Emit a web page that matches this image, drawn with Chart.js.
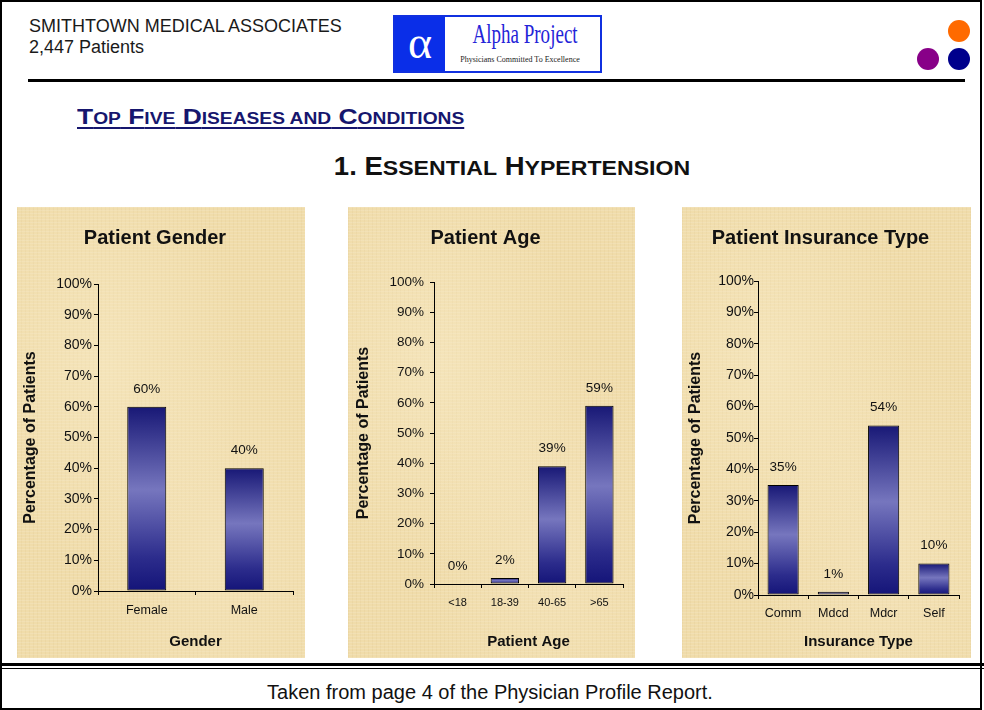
<!DOCTYPE html>
<html>
<head>
<meta charset="utf-8">
<script src="https://cdn.jsdelivr.net/npm/chart.js@4.4.1/dist/chart.umd.min.js"></script>
<style>
  html, body { margin: 0; padding: 0; background: #fff; }
  body { width: 984px; height: 710px; position: relative; overflow: hidden; font-family: Arial, "Liberation Sans", sans-serif; }
  .abs { position: absolute; }
  .frame { left: 0; top: 0; width: 978px; height: 706px; border: 2px solid #000; }
  .hdr { left: 29px; font-size: 18px; line-height: 18px; color: #1a1a1a; white-space: nowrap; }
  .sep { left: 28px; top: 79px; width: 937px; height: 3px; background: #000; }
  .dot { width: 22px; height: 22px; border-radius: 50%; }
  .logo { left: 393px; top: 15px; width: 205px; height: 54px; border: 2px solid #1030e0; background: #fff; }
  .logo .alpha { position: absolute; left: 0; top: 0; width: 50px; height: 54px; background: #0a2ee8; color: #fff;
    font-family: "Liberation Serif", "DejaVu Serif", serif; font-size: 46px; line-height: 52px; text-align: center; }
  .logo .name { position: absolute; left: 55px; top: 2px; width: 140px; text-align: center; color: #2424d8;
    font-family: "Liberation Serif", serif; font-size: 28px; line-height: 30px; transform: scaleX(0.68); white-space: nowrap; }
  .logo .sub { position: absolute; left: 50px; top: 38px; width: 150px; text-align: center; color: #222;
    font-family: "Liberation Serif", serif; font-size: 8px; line-height: 10px; white-space: nowrap; }
  .sec { left: 77px; top: 106px; color: #16166e; font-weight: bold; font-size: 22px; line-height: 22px; white-space: nowrap;
    text-decoration: underline; text-decoration-thickness: 2px; text-underline-offset: 3px; transform: scaleX(1.2); transform-origin: 0 0; }
  .sec .s { font-size: 16px; }
  .ttl { left: 312px; width: 400px; top: 154px; text-align: center; color: #111; font-weight: bold; font-size: 25px; line-height: 25px;
    white-space: nowrap; transform: scaleX(1.1); }
  .ttl .s { font-size: 21px; }
  .panel { top: 207px; height: 451px;
    background-color: #f0dcaa;
    background-image:
      radial-gradient(ellipse at 30% 35%, rgba(250,238,205,0.45), rgba(250,238,205,0) 50%),
      radial-gradient(ellipse at 70% 75%, rgba(248,234,200,0.40), rgba(248,234,200,0) 45%),
      repeating-linear-gradient(0deg, rgba(255,255,255,0.12) 0 1px, rgba(0,0,0,0) 1px 3px),
      repeating-linear-gradient(90deg, rgba(170,130,60,0.06) 0 1px, rgba(0,0,0,0) 1px 4px);
  }
  .panel canvas { position: absolute; left: 0; top: 0; }
  .dbl1 { left: 0; top: 663px; width: 984px; height: 3px; background: #000; }
  .dbl2 { left: 0; top: 668px; width: 984px; height: 1px; background: #000; }
  .foot { left: 0; width: 980px; top: 682px; text-align: center; font-size: 20px; line-height: 20px; color: #111; }
</style>
</head>
<body>
<div class="abs frame"></div>
<div class="abs hdr" style="top:17px">SMITHTOWN MEDICAL ASSOCIATES</div>
<div class="abs hdr" style="top:38px">2,447 Patients</div>
<div class="abs logo">
  <div class="alpha">&alpha;</div>
  <div class="name">Alpha Project</div>
  <div class="sub">Physicians Committed To Excellence</div>
</div>
<div class="abs dot" style="left:948px; top:20px; background:#ff6a00"></div>
<div class="abs dot" style="left:917px; top:48px; background:#880088"></div>
<div class="abs dot" style="left:948px; top:48px; background:#00008c"></div>
<div class="abs sep"></div>

<div class="abs sec">T<span class="s">OP</span> F<span class="s">IVE</span> D<span class="s">ISEASES AND</span> C<span class="s">ONDITIONS</span></div>
<div class="abs ttl">1. E<span class="s">SSENTIAL</span> H<span class="s">YPERTENSION</span></div>

<div class="abs panel" style="left:17px; width:288px"><canvas id="c1" width="288" height="451"></canvas></div>
<div class="abs panel" style="left:348px; width:287px"><canvas id="c2" width="287" height="451"></canvas></div>
<div class="abs panel" style="left:682px; width:289px"><canvas id="c3" width="289" height="451"></canvas></div>

<div class="abs dbl1"></div>
<div class="abs dbl2"></div>
<div class="abs foot">Taken from page 4 of the Physician Profile Report.</div>

<script>
// datos
const percentTicks = [0, 10, 20, 30, 40, 50, 60, 70, 80, 90, 100];

const genderLabels = ["Female", "Male"];
const genderValues = [60, 40];

const ageLabels = ["<18", "18-39", "40-65", ">65"];
const ageValues = [0, 2, 39, 59];

const insuranceLabels = ["Comm", "Mdcd", "Mdcr", "Self"];
const insuranceValues = [35, 1, 54, 10];

const fuente = "Arial, 'Liberation Sans', sans-serif";

// degradado de cada barra: oscuro arriba y abajo, claro al medio
function barGradient(c) {
  if (c.type !== "data") return "#2a2a8a";
  const y = c.chart.scales.y;
  const top = y.getPixelForValue(c.raw);
  const base = y.getPixelForValue(0);
  if (!isFinite(top) || !isFinite(base) || base - top < 1) return "#1c1c7c";
  const g = c.chart.ctx.createLinearGradient(0, top, 0, base);
  g.addColorStop(0, "#181876");
  g.addColorStop(0.45, "#7676be");
  g.addColorStop(0.82, "#2c2c8c");
  g.addColorStop(1, "#141478");
  return g;
}

// etiqueta de porcentaje encima de cada barra
const valueLabels = {
  id: "valueLabels",
  afterDatasetsDraw(chart) {
    const ctx = chart.ctx;
    const meta = chart.getDatasetMeta(0);
    ctx.save();
    ctx.font = "13.5px " + fuente;
    ctx.fillStyle = "#111";
    ctx.textAlign = "center";
    ctx.textBaseline = "middle";
    meta.data.forEach((bar, i) => {
      const v = chart.data.datasets[0].data[i];
      ctx.fillText(v + "%", bar.x, bar.y - 18);
    });
    ctx.restore();
  }
};

function crearGrafico(id, titulo, labels, values, xTitulo, lay) {
  const ctx = document.getElementById(id).getContext("2d");
  return new Chart(ctx, {
    type: "bar",
    data: {
      labels: labels,
      datasets: [{
        data: values,
        backgroundColor: barGradient,
        borderColor: "#000",
        borderWidth: 1,
        borderSkipped: false,
        barPercentage: lay.bar,
        categoryPercentage: 1
      }]
    },
    plugins: [valueLabels],
    options: {
      responsive: false,
      animation: false,
      layout: { padding: { left: 0, right: lay.right, top: 0, bottom: 0 } },
      plugins: {
        legend: { display: false },
        tooltip: { enabled: false },
        title: {
          display: true,
          text: titulo,
          color: "#111",
          font: { family: fuente, size: 20, weight: "bold", lineHeight: 1.2 },
          padding: { top: 19, bottom: lay.top - 19 - 24 }
        }
      },
      scales: {
        x: {
          afterFit: (s) => { s.height = lay.xh; },
          grid: { drawOnChartArea: false, tickLength: 4, color: "#000", offset: true },
          border: { color: "#000", width: 1 },
          ticks: { color: "#111", padding: lay.xpad, font: { family: fuente, size: lay.xfont } },
          title: {
            display: true, text: xTitulo, color: "#111",
            font: { family: fuente, size: 15, weight: "bold", lineHeight: 1.2 },
            padding: { top: 0, bottom: 7 }
          }
        },
        y: {
          min: 0,
          max: 100,
          afterFit: (s) => { s.width = lay.yw; },
          afterBuildTicks: (s) => { s.ticks = percentTicks.map(v => ({ value: v })); },
          grid: { drawOnChartArea: false, tickLength: 4, color: "#000" },
          border: { color: "#000", width: 1 },
          ticks: {
            color: "#111", padding: lay.ypad,
            font: { family: fuente, size: lay.yfont },
            callback: (v) => v + "%"
          },
          title: {
            display: true, text: "Percentage of Patients", color: "#111",
            font: { family: fuente, size: 16, weight: "bold", lineHeight: 1.2 },
            padding: { top: lay.ytpad, bottom: 0 }
          }
        }
      }
    }
  });
}

crearGrafico("c1", "Patient Gender", genderLabels, genderValues, "Gender",
  { bar: 0.4, right: 12, top: 77, xh: 67, yw: 81, xpad: 8.5, ypad: 2, ytpad: 3.5, xfont: 12.5, yfont: 14 });
crearGrafico("c2", "Patient Age", ageLabels, ageValues, "Patient Age",
  { bar: 0.6, right: 12, top: 75, xh: 74, yw: 86, xpad: 8, ypad: 6, ytpad: 5.5, xfont: 11, yfont: 13.5 });
crearGrafico("c3", "Patient Insurance Type", insuranceLabels, insuranceValues, "Insurance Type",
  { bar: 0.62, right: 12, top: 74, xh: 63, yw: 76, xpad: 7, ypad: 0, ytpad: 3.5, xfont: 12.5, yfont: 14 });
</script>
</body>
</html>
